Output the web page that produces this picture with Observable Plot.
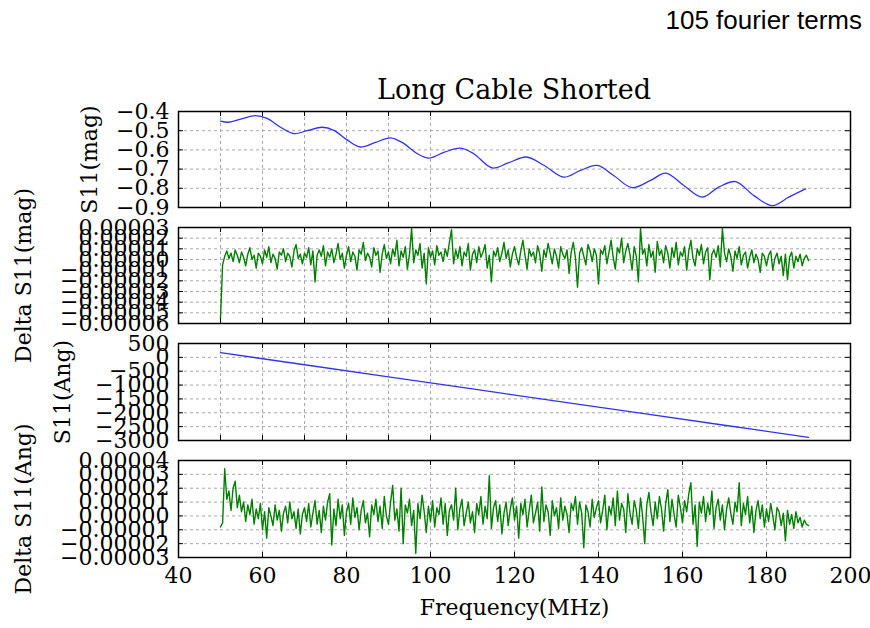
<!DOCTYPE html>
<html><head><meta charset="utf-8">
<script src="https://cdn.jsdelivr.net/npm/d3@7"></script>
<script src="https://cdn.jsdelivr.net/npm/@observablehq/plot@0.6"></script>
<style>
body{margin:0;background:#fff;}
#fig{position:relative;width:870px;height:628px;overflow:hidden;font-family:"DejaVu Serif";background:#fff;}
.panel{position:absolute;left:0;}
#note{position:absolute;right:8px;top:7px;font:26px "Liberation Sans",Arial,sans-serif;line-height:26px;color:#000;}
#title{position:absolute;left:178px;width:672px;top:76px;text-align:center;font:27px "DejaVu Serif";line-height:27px;color:#000;}
</style></head>
<body><div id="fig"><div id="note">105 fourier terms</div><div id="title">Long Cable Shorted</div></div>
<script>
// ---- Panel 1: S11 magnitude
const s11MagFreq = [50,52,54.8,58.3,61.1,64.3,67.5,70.6,74.2,77,80.2,83.3,86.9,90.5,93.6,96.8,99.6,103.2,107.1,110.3,114.7,118.5,122.8,127,131.7,135.7,139.7,143.6,148,152.4,156,160.3,164.7,168.6,172.6,177,181.4,185.3,189.3];
const s11Mag = [-0.450,-0.456,-0.440,-0.421,-0.436,-0.482,-0.515,-0.500,-0.482,-0.498,-0.549,-0.585,-0.561,-0.537,-0.566,-0.619,-0.643,-0.613,-0.591,-0.620,-0.694,-0.668,-0.637,-0.680,-0.742,-0.707,-0.681,-0.733,-0.797,-0.759,-0.721,-0.785,-0.846,-0.794,-0.765,-0.838,-0.890,-0.846,-0.803];
const magTicks = [-0.9,-0.8,-0.7,-0.6,-0.5,-0.4];

// ---- Panel 2: Delta S11 magnitude (values in units of 1e-6), sampled every 0.5 MHz from 50 MHz
const deltaMagMicro = [
-55,-5,3,8,1,6,-2,9,4,-3, 7,2,-6,5,11,0,4,-8,6,3, -4,9,2,12,-3,5,1,-9,7,4, 10,-2,6,3,-7,8,14,1,5,-4,
6,2,11,-5,8,-21,4,9,3,13, -6,7,2,10,-3,5,15,0,6,-8, 4,12,-2,7,3,-10,9,5,16,-1, 6,2,-7,11,4,8,-12,5,14,1,
7,-4,10,3,18,-6,8,2,12,-9, 5,29,-3,9,4,15,-8,6,-23,11, 2,8,-5,13,4,7,-2,10,3,16, 28,-4,9,1,12,-6,7,3,15,-10,
5,9,-3,12,2,7,14,-8,4,-21, 8,3,11,-2,6,16,1,9,-7,5, 12,2,-5,8,18,4,-9,10,3,7, -3,13,5,-11,9,2,15,6,-4,10,
3,-8,12,5,1,9,-13,7,16,2, -26,6,11,3,-5,14,8,-2,10,4, -23,9,5,13,-4,7,18,2,-9,11, 6,20,-3,8,15,4,-10,12,3,-21,
29,5,10,-6,14,2,8,-12,17,4, 9,-3,13,6,-8,11,2,16,-5,7, 3,12,-10,8,18,1,-6,10,4,14, -4,7,11,-19,5,9,2,13,-7,29,
6,-2,10,3,-11,8,1,12,-5,4, 7,-8,2,9,-3,5,0,-12,6,3, -6,4,8,-10,1,6,-4,3,-15,5, -19,2,7,-8,3,-2,5,-6,1,4, -1];
const dMagTicks = [-0.00006,-0.00005,-0.00004,-0.00003,-0.00002,-0.00001,0,0.00001,0.00002,0.00003];

// ---- Panel 3: S11 angle
const s11AngFreq = [50,70,90,110,130,150,170,190];
const s11Ang = [170,-267,-703,-1140,-1577,-2013,-2450,-2887];
const angTicks = [-3000,-2500,-2000,-1500,-1000,-500,0,500];

// ---- Panel 4: Delta S11 angle (values in units of 1e-6), sampled every 0.5 MHz from 50 MHz
const deltaAngMicro = [
-8,-5,34,12,18,4,20,25,6,15, 3,10,-4,8,1,12,-6,5,-2,9, -10,3,-16,6,0,-7,8,-3,4,-11, 2,7,-5,10,-2,3,-9,5,-13,1,
6,-4,9,-8,2,11,-6,4,-12,7, -3,10,16,-21,5,-7,12,-2,8,-14, 3,9,-6,13,-1,6,-10,4,11,-5, 2,-15,8,1,12,-4,7,-9,14,0,
-6,10,22,-3,5,-11,20,-20,8,2, 12,-7,4,-27,9,-2,15,3,-12,7, -4,11,-8,6,1,13,-6,9,-14,4, 8,-3,20,-10,5,12,-7,2,10,-5,
3,-12,9,1,14,-6,7,-2,29,-9, 6,11,-4,8,-13,2,10,-7,5,13, -3,7,-16,9,1,12,-8,4,15,-5, 2,10,-11,21,-4,8,3,-14,11,0,
6,-9,13,-3,7,1,-12,9,4,14, -6,10,2,-23,8,3,-8,12,-1,6, 11,-5,4,15,-10,7,1,13,-7,18, -3,9,5,-12,16,2,-6,11,4,-9,
13,0,-20,8,17,3,-7,10,-2,14, 5,-11,9,19,-4,12,1,-8,15,6, -5,11,3,16,24,-6,8,-22,10,2, 14,-4,9,1,18,-9,6,12,-3,8,
-10,5,13,2,-6,10,3,24,-7,9, 1,14,-5,7,-12,4,11,-2,8,-8, 5,-4,9,0,-10,6,3,-7,2,-18, 4,-6,1,-9,3,-5,-1,-8,-3,-6, -7];
const dAngTicks = [-0.00003,-0.00002,-0.00001,0,0.00001,0.00002,0.00003,0.00004];

// ---- shared x axis
const xDomain = [40, 200];
const xTicksTop = [50,60,70,80,90,100];
const xTicksBottom = [40,60,80,100,120,140,160,180,200];
const xGridBottom = [60,80,100,120,140,160,180];

const deltaFreq = deltaMagMicro.map((_, i) => 50 + i * 0.5);
const magRows = s11MagFreq.map((f, i) => ({f, v: s11Mag[i]}));
const dMagRows = deltaFreq.map((f, i) => ({f, v: deltaMagMicro[i] * 1e-6}));
const angRows = s11AngFreq.map((f, i) => ({f, v: s11Ang[i]}));
const dAngRows = deltaAngMicro.map((_, i) => ({f: 50 + i * 0.5, v: deltaAngMicro[i] * 1e-6}));

const fig = document.getElementById("fig");
const W = 870, ML = 178, MR = 20;
const plotW = W - ML - MR;

function panel({rows, color, width, curve, yDomain, yTicks, yFormat, xGrid, label, labelDx, top, plotH, mb, bottomAxis}) {
  const mt = 20;
  const grid = {stroke: "#a8a8a8", strokeOpacity: 1, strokeDasharray: "3,3", strokeWidth: 1};
  const tl = 5; // tick length in px
  const dx = (xDomain[1] - xDomain[0]) * tl / plotW;
  const dy = (yDomain[1] - yDomain[0]) * tl / plotH;
  const marks = [
    Plot.gridY(yTicks, grid),
    Plot.gridX(xGrid, grid),
    Plot.line(rows, {x: "f", y: "v", stroke: color, strokeWidth: width, curve}),
    Plot.ruleY(yTicks, {x1: xDomain[0], x2: xDomain[0] + dx, stroke: "black"}),
    Plot.ruleY(yTicks, {x1: xDomain[1] - dx, x2: xDomain[1], stroke: "black"}),
    Plot.ruleX(xGrid, {y1: yDomain[1] - dy, y2: yDomain[1], stroke: "black"}),
    Plot.ruleX(xGrid, {y1: yDomain[0], y2: yDomain[0] + dy, stroke: "black"}),
    Plot.frame({stroke: "black", strokeWidth: 1.5}),
    Plot.axisY(yTicks, {anchor: "left", tickSize: 0, tickPadding: 9, tickFormat: yFormat, label: null, fontSize: 22}),
    Plot.text([label], {frameAnchor: "left", textAnchor: "middle", lineAnchor: "middle", rotate: -90, dx: labelDx, text: d => d, fontSize: 22, fill: "black"})
  ];
  if (bottomAxis) {
    marks.push(Plot.axisX(xTicksBottom, {anchor: "bottom", tickSize: 0, tickPadding: 10, tickFormat: d => String(d), label: null, fontSize: 22}));
    marks.push(Plot.text(["Frequency(MHz)"], {frameAnchor: "bottom", dy: 57, text: d => d, fontSize: 22, fill: "black"}));
  }
  const svg = Plot.plot({
    width: W, height: mt + plotH + mb,
    marginLeft: ML, marginRight: MR, marginTop: mt, marginBottom: mb,
    x: {domain: xDomain, axis: null},
    y: {domain: yDomain, axis: null},
    style: {background: "transparent", overflow: "visible", fontFamily: "DejaVu Serif", fontSize: "22px", color: "black"},
    marks
  });
  svg.classList.add("panel");
  svg.style.top = (top - mt) + "px";
  fig.appendChild(svg);
}

panel({rows: magRows, color: "#3333ee", width: 1.3, curve: "catmull-rom", yDomain: [-0.9, -0.4], yTicks: magTicks,
  yFormat: d3.format(".1f"), xGrid: xTicksTop, label: "S11(mag)", labelDx: -89, top: 111, plotH: 96, mb: 20});
panel({rows: dMagRows, color: "#008000", width: 1.4, curve: "linear", yDomain: [-0.00006, 0.00003], yTicks: dMagTicks,
  yFormat: d3.format(".5f"), xGrid: xTicksTop, label: "Delta S11(mag)", labelDx: -155, top: 227, plotH: 96, mb: 20});
panel({rows: angRows, color: "#3333ee", width: 1.3, curve: "linear", yDomain: [-3000, 500], yTicks: angTicks,
  yFormat: d3.format("d"), xGrid: xTicksTop, label: "S11(Ang)", labelDx: -116, top: 343, plotH: 97, mb: 20});
panel({rows: dAngRows, color: "#008000", width: 1.4, curve: "linear", yDomain: [-0.00003, 0.00004], yTicks: dAngTicks,
  yFormat: d3.format(".5f"), xGrid: xGridBottom, label: "Delta S11(Ang)", labelDx: -155, top: 460, plotH: 97, mb: 70, bottomAxis: true});
</script>
</body></html>
